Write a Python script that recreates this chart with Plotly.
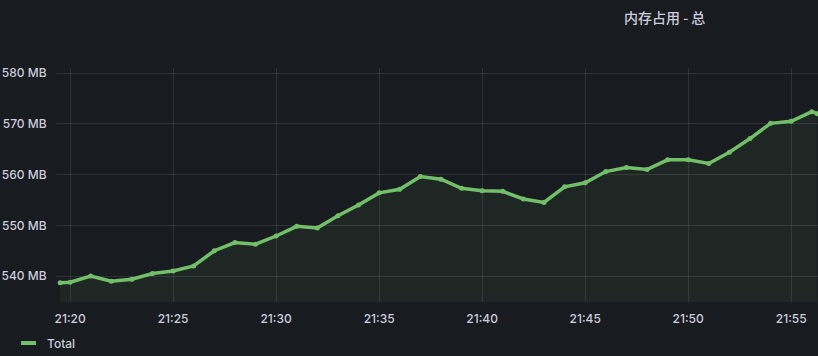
import plotly.graph_objects as go

times = ["2024-01-01 21:19:31"] + [f"2024-01-01 21:{m:02d}:00" for m in range(20, 57)] + ["2024-01-01 21:56:16"]
values = [538.7, 538.8, 540.0, 539.0, 539.4, 540.5, 541.0, 542.0, 545.0, 546.6,
          546.3, 547.9, 549.8, 549.5, 551.9, 554.0, 556.4, 557.1, 559.6, 559.1,
          557.3, 556.8, 556.7, 555.2, 554.5, 557.6, 558.4, 560.6, 561.4, 561.0,
          562.9, 562.9, 562.2, 564.4, 567.1, 570.1, 570.5, 572.4, 572.0]
y_ticks = [540, 550, 560, 570, 580]
y_tick_text = ["540 MB", "550 MB", "560 MB", "570 MB", "580 MB"]
x_ticks = ["2024-01-01 21:20", "2024-01-01 21:25", "2024-01-01 21:30", "2024-01-01 21:35",
           "2024-01-01 21:40", "2024-01-01 21:45", "2024-01-01 21:50", "2024-01-01 21:55"]
x_tick_text = ["21:20", "21:25", "21:30", "21:35", "21:40", "21:45", "21:50", "21:55"]
series_name = "Total"
title_text = "内存占用 - 总"

BG = "#181b1f"
GREEN = "#73bf69"
TXT = "#ccccdc"
GRID = "rgba(204,204,220,0.13)"

fig = go.Figure()
fig.add_trace(go.Scatter(
    x=times, y=values, mode="lines+markers", name=series_name,
    line=dict(color=GREEN, width=3.5), marker=dict(color=GREEN, size=5),
    fill="tozeroy", fillcolor="rgba(115,191,105,0.08)", showlegend=False,
))

fig.update_layout(
    width=818, height=356,
    paper_bgcolor=BG, plot_bgcolor=BG,
    margin=dict(l=56, r=0, t=68, b=54),
    font=dict(family="Inter, Roboto, sans-serif", color=TXT, size=12, weight=500),
    xaxis=dict(
        type="date", range=["2024-01-01 21:19:19", "2024-01-01 21:56:18"],
        tickvals=x_ticks, ticktext=x_tick_text,
        showgrid=True, gridcolor=GRID, gridwidth=1,
        zeroline=False, showline=False,
        ticks="outside", ticklen=6, tickcolor=BG,
        tickfont=dict(size=12, color=TXT, weight=500),
    ),
    yaxis=dict(
        range=[534.9, 581.0],
        tickvals=y_ticks, ticktext=y_tick_text,
        showgrid=True, gridcolor=GRID, gridwidth=1,
        zeroline=False, showline=False,
        ticks="outside", ticklen=6, tickcolor=BG,
        tickfont=dict(size=12, color=TXT, weight=500),
    ),
    shapes=[dict(type="line", xref="paper", yref="paper",
                 x0=(21 - 56) / 762, x1=(36 - 56) / 762,
                 y0=(302 - 343) / 234, y1=(302 - 343) / 234,
                 line=dict(color=GREEN, width=4))],
    annotations=[
        dict(text=title_text, xref="paper", yref="paper",
             x=(664 - 56) / 762, y=(302 - 17) / 234, xanchor="center", yanchor="middle",
             showarrow=False, font=dict(size=14, color=TXT, weight=500,
                                        family="Noto Sans CJK SC, Inter, sans-serif")),
        dict(text=series_name, xref="paper", yref="paper",
             x=(45 - 56) / 762, y=(302 - 343) / 234, xanchor="left", yanchor="middle",
             showarrow=False, font=dict(size=12, color=TXT, weight=500)),
    ],
)

fig.write_html("out.html", config={"displayModeBar": False},
               post_script="document.body.style.margin='0';document.body.style.overflow='hidden';")
